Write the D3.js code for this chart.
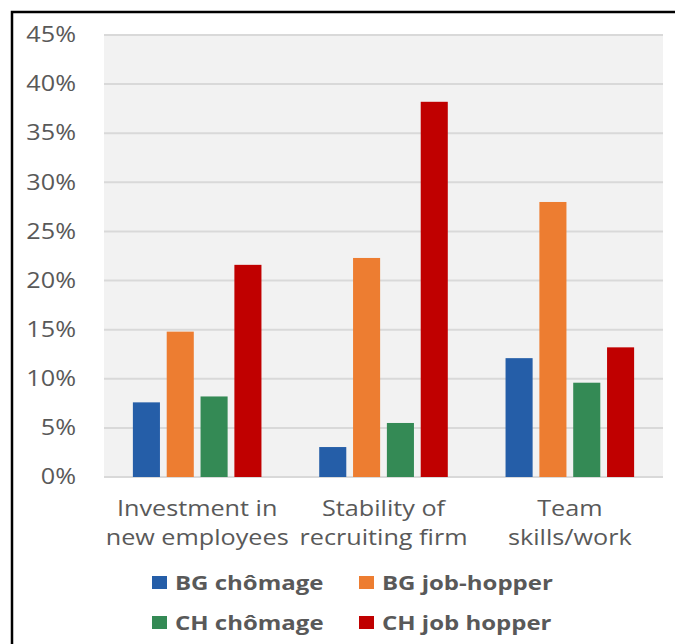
<!DOCTYPE html>
<html lang="en">
<head>
<meta charset="utf-8">
<title>Grouped bars</title>
<script src="https://d3js.org/d3.v7.min.js"></script>
<style>
  body { margin: 0; background: #fff; }
  text { font-family: "Open Sans", sans-serif; fill: #595959; }
</style>
</head>
<body>
<script>
// data
var categories = [["Investment in", "new employees"], ["Stability of", "recruiting firm"], ["Team", "skills/work"]];
var seriesNames = ["BG chômage", "BG job-hopper", "CH chômage", "CH job hopper"];
var bgChomage = [7.6, 3.05, 12.1];
var bgJobHopper = [14.8, 22.3, 28.0];
var chChomage = [8.2, 5.5, 9.6];
var chJobHopper = [21.6, 38.2, 13.2];
var yTicks = [0, 5, 10, 15, 20, 25, 30, 35, 40, 45];
var colors = ["#255ea8", "#ed7d31", "#348a55", "#c00000"];

var series = [bgChomage, bgJobHopper, chChomage, chJobHopper];

var W = 675, H = 644;
var mLeft = 104, mRight = 663, mTop = 35, mBottom = 477;
var stretch = 1.2; // text in the picture is widened horizontally

var svg = d3.select("body").append("svg")
    .attr("width", W)
    .attr("height", H);

// frame
svg.append("rect")
    .attr("x", 12).attr("y", 12)
    .attr("width", 700).attr("height", 700)
    .attr("fill", "none")
    .attr("stroke", "#000")
    .attr("stroke-width", 2.5);

var x0 = d3.scaleBand()
    .domain(d3.range(categories.length))
    .range([mLeft, mRight])
    .paddingInner(0.31)
    .paddingOuter(0.155);

var x1 = d3.scaleBand()
    .domain(d3.range(series.length))
    .range([0, x0.bandwidth()])
    .paddingInner(0.2);

var y = d3.scaleLinear()
    .domain([0, 45])
    .range([mBottom, mTop]);

// plot background
svg.append("rect")
    .attr("x", mLeft).attr("y", mTop)
    .attr("width", mRight - mLeft).attr("height", mBottom - mTop)
    .attr("fill", "#f2f2f2");

// gridlines
svg.append("g").selectAll("line")
    .data(yTicks)
    .enter().append("line")
    .attr("x1", mLeft).attr("x2", mRight)
    .attr("y1", function(d) { return y(d); })
    .attr("y2", function(d) { return y(d); })
    .attr("stroke", "#d9d9d9")
    .attr("stroke-width", 2);

// y axis labels
var yAxis = d3.axisLeft(y)
    .tickValues(yTicks)
    .tickSize(0)
    .tickPadding(0)
    .tickFormat(function(d) { return d + "%"; });

var gy = svg.append("g")
    .attr("transform", "translate(" + (mLeft - 28) + ",0)")
    .call(yAxis);
gy.select(".domain").remove();
gy.selectAll("text")
    .style("font-size", "21px")
    .attr("fill", "#595959")
    .attr("x", 0)
    .attr("transform", "scale(" + stretch + ",1)");

// bars
var groups = svg.append("g").selectAll("g")
    .data(categories)
    .enter().append("g")
    .attr("transform", function(d, i) { return "translate(" + x0(i) + ",0)"; });

groups.selectAll("rect")
    .data(function(d, i) { return series.map(function(s, k) { return { k: k, v: s[i] }; }); })
    .enter().append("rect")
    .attr("x", function(d) { return x1(d.k); })
    .attr("y", function(d) { return y(d.v); })
    .attr("width", x1.bandwidth())
    .attr("height", function(d) { return mBottom - y(d.v); })
    .attr("fill", function(d) { return colors[d.k]; });

// category labels
var cl = svg.append("g").selectAll("g")
    .data(categories)
    .enter().append("g")
    .attr("transform", function(d, i) { return "translate(" + (x0(i) + x0.bandwidth() / 2) + ",0) scale(" + stretch + ",1)"; });
cl.each(function(d) {
    var g = d3.select(this);
    d.forEach(function(line, j) {
        g.append("text")
            .attr("text-anchor", "middle")
            .attr("x", 0)
            .attr("y", 516 + j * 29)
            .style("font-size", "21px")
            .text(line);
    });
});

// legend
var legPos = [[152, 590], [359, 590], [152, 630], [359, 630]];
var leg = svg.append("g").selectAll("g")
    .data(seriesNames)
    .enter().append("g")
    .attr("transform", function(d, i) { return "translate(" + legPos[i][0] + "," + legPos[i][1] + ")"; });
leg.append("rect")
    .attr("x", 0).attr("y", -14)
    .attr("width", 15).attr("height", 13)
    .attr("fill", function(d, i) { return colors[i]; });
leg.append("text")
    .attr("x", 23 / stretch).attr("y", 0)
    .attr("transform", "scale(" + stretch + ",1)")
    .style("font-size", "20px")
    .style("font-weight", "bold")
    .text(function(d) { return d; });
</script>
</body>
</html>
